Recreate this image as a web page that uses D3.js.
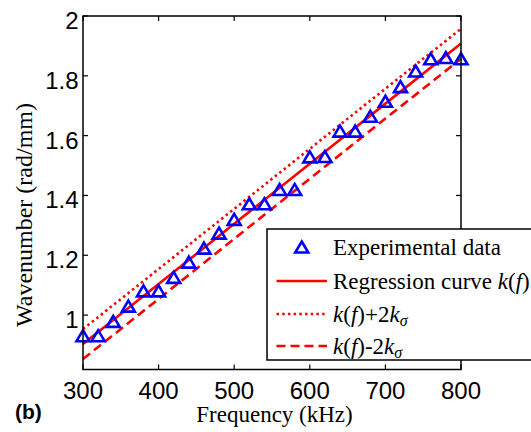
<!DOCTYPE html>
<html>
<head>
<meta charset="utf-8">
<script src="https://cdn.jsdelivr.net/npm/d3@7"></script>
<style>
  body { margin: 0; background: #fff; }
  svg { display: block; }
</style>
</head>
<body>
<svg id="chart" width="531" height="432"></svg>
<script>
// Wavenumber vs frequency: measured points + regression curve with ±2σ band

const freqs = [300, 320, 340, 360, 380, 400, 420, 440, 460, 480, 500, 520, 540,
               560, 580, 600, 620, 640, 660, 680, 700, 720, 740, 760, 780, 800];
const wavenumbers = [0.931, 0.931, 0.979, 1.030, 1.081, 1.081, 1.126, 1.177, 1.224, 1.274, 1.320, 1.372, 1.372,
                     1.420, 1.420, 1.529, 1.530, 1.615, 1.615, 1.665, 1.715, 1.764, 1.816, 1.857, 1.861, 1.857];

const curveFreqs = [300, 400, 500, 600, 700, 800];
const regression = [0.903, 1.104, 1.305, 1.506, 1.707, 1.908];
const upperBand = [0.953, 1.154, 1.355, 1.556, 1.757, 1.957];
const lowerBand = [0.853, 1.054, 1.255, 1.456, 1.657, 1.857];

const xTicks = [300, 400, 500, 600, 700, 800];
const yTicks = [1, 1.2, 1.4, 1.6, 1.8, 2];

const RED = "#ff0000";
const BLUE = "#0000ff";
const SERIF = "'Liberation Serif', 'Times New Roman', serif";
const SANS = "'Liberation Sans', Arial, Helvetica, sans-serif";

const plot = { left: 83, right: 461, top: 16, bottom: 369.5 };

const svg = d3.select("#chart");

const x = d3.scaleLinear().domain([300, 800]).range([plot.left, plot.right]);
const y = d3.scaleLinear().domain([0.818, 2]).range([plot.bottom, plot.top]);

// triangle marker, bounding box centred on the point
function triangle(cx, cy) {
    const w = 6.5, h = 5.5;
    return `M${cx},${cy - h}L${cx + w},${cy + h}L${cx - w},${cy + h}Z`;
}

// --- curves ---
const line = d3.line()
    .x((d, i) => x(curveFreqs[i]))
    .y(d => y(d));

const curves = [
    { values: upperBand, dash: "2.5,3.2" },
    { values: regression, dash: null },
    { values: lowerBand, dash: "9,5" }
];

curves.forEach(c => {
    svg.append("path")
        .attr("d", line(c.values))
        .attr("fill", "none")
        .attr("stroke", RED)
        .attr("stroke-width", 2.6)
        .attr("stroke-dasharray", c.dash);
});

// --- data points ---
svg.append("g")
    .selectAll("path")
    .data(wavenumbers)
    .join("path")
    .attr("d", (d, i) => triangle(x(freqs[i]), y(d)))
    .attr("fill", "none")
    .attr("stroke", BLUE)
    .attr("stroke-width", 2.6)
    .attr("stroke-linejoin", "miter");

// --- axes box + inward ticks ---
svg.append("rect")
    .attr("x", plot.left)
    .attr("y", plot.top)
    .attr("width", plot.right - plot.left)
    .attr("height", plot.bottom - plot.top)
    .attr("fill", "none")
    .attr("stroke", "#000")
    .attr("stroke-width", 1.5);

const tickLen = 5;

xTicks.forEach(t => {
    const px = x(t);
    svg.append("line")
        .attr("x1", px).attr("x2", px)
        .attr("y1", plot.bottom).attr("y2", plot.bottom - tickLen)
        .attr("stroke", "#000").attr("stroke-width", 1.2);
    svg.append("line")
        .attr("x1", px).attr("x2", px)
        .attr("y1", plot.top).attr("y2", plot.top + tickLen)
        .attr("stroke", "#000").attr("stroke-width", 1.2);
    svg.append("text")
        .attr("x", px)
        .attr("y", 399)
        .attr("text-anchor", "middle")
        .attr("font-family", SANS)
        .attr("font-size", "24px")
        .text(d3.format("d")(t));
});

yTicks.forEach(t => {
    const py = y(t);
    svg.append("line")
        .attr("x1", plot.left).attr("x2", plot.left + tickLen)
        .attr("y1", py).attr("y2", py)
        .attr("stroke", "#000").attr("stroke-width", 1.2);
    svg.append("line")
        .attr("x1", plot.right).attr("x2", plot.right - tickLen)
        .attr("y1", py).attr("y2", py)
        .attr("stroke", "#000").attr("stroke-width", 1.2);
    svg.append("text")
        .attr("x", 78.5)
        .attr("y", py + 13)
        .attr("text-anchor", "end")
        .attr("font-family", SANS)
        .attr("font-size", "24px")
        .text(d3.format("~g")(t));
});

// --- axis labels ---
svg.append("text")
    .attr("x", 274.5)
    .attr("y", 422)
    .attr("text-anchor", "middle")
    .attr("font-family", SERIF)
    .attr("font-size", "23px")
    .text("Frequency (kHz)");

svg.append("text")
    .attr("transform", "translate(32,215) rotate(-90)")
    .attr("text-anchor", "middle")
    .attr("font-family", SERIF)
    .attr("font-size", "24px")
    .text("Wavenumber (rad/mm)");

svg.append("text")
    .attr("x", 15)
    .attr("y", 419)
    .attr("font-family", SANS)
    .attr("font-weight", "bold")
    .attr("font-size", "21px")
    .text("(b)");

// --- legend ---
const legend = svg.append("g");

legend.append("rect")
    .attr("x", 267)
    .attr("y", 229)
    .attr("width", 300)
    .attr("height", 131)
    .attr("fill", "#fff")
    .attr("stroke", "#000")
    .attr("stroke-width", 1.5);

const rowY = [247, 281, 314, 346];
const sampleX0 = 276.5, sampleX1 = 327, textX = 333;

legend.append("path")
    .attr("d", triangle((sampleX0 + sampleX1) / 2, rowY[0]))
    .attr("fill", "none")
    .attr("stroke", BLUE)
    .attr("stroke-width", 2.6);

// legend order: solid, dotted, dashed
[curves[1], curves[0], curves[2]].forEach((c, i) => {
    legend.append("line")
        .attr("x1", sampleX0).attr("x2", sampleX1)
        .attr("y1", rowY[i + 1]).attr("y2", rowY[i + 1])
        .attr("stroke", RED)
        .attr("stroke-width", 2.6)
        .attr("stroke-dasharray", c.dash);
});

function legendText(yc) {
    return legend.append("text")
        .attr("x", textX)
        .attr("y", yc + 8)
        .attr("font-family", SERIF)
        .attr("font-size", "23px");
}

legendText(rowY[0]).text("Experimental data");

const t1 = legendText(rowY[1]);
t1.append("tspan").text("Regression curve ");
t1.append("tspan").attr("font-style", "italic").text("k");
t1.append("tspan").text("(");
t1.append("tspan").attr("font-style", "italic").text("f");
t1.append("tspan").text(")");

function bandText(yc, sign) {
    const t = legendText(yc);
    t.append("tspan").attr("font-style", "italic").text("k");
    t.append("tspan").text("(");
    t.append("tspan").attr("font-style", "italic").text("f");
    t.append("tspan").text(")" + sign + "2");
    t.append("tspan").attr("font-style", "italic").text("k");
    t.append("tspan").attr("font-style", "italic").attr("font-size", "16px").attr("dy", 4).text("σ");
}

bandText(rowY[2], "+");
bandText(rowY[3], "-");
</script>
</body>
</html>
